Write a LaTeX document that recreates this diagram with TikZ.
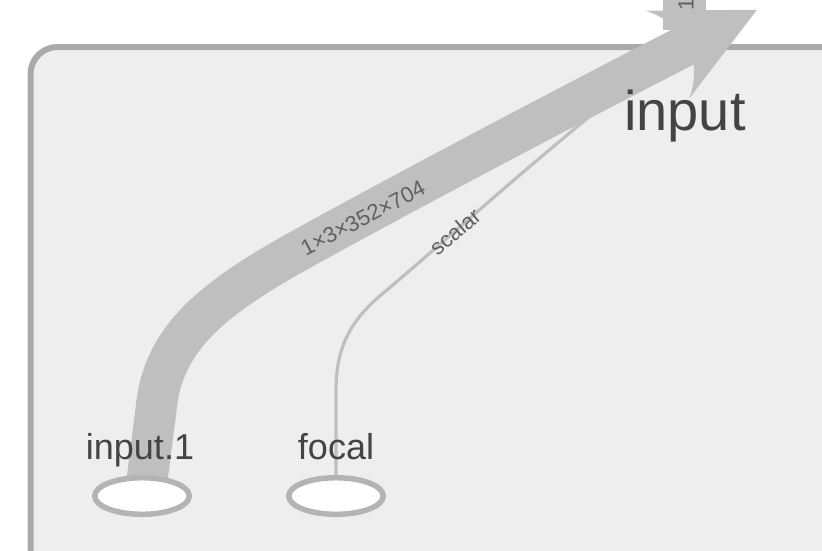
\documentclass[tikz,border=0pt]{standalone}
\usepackage{fontspec}
\setmainfont{Liberation Sans}
\usetikzlibrary{shapes.geometric}
\pgfdeclarelayer{back}
\pgfdeclarelayer{edges}
\pgfsetlayers{back,edges,main}
\definecolor{boxfill}{HTML}{EEEEEE}
\definecolor{boxline}{HTML}{AAAAAA}
\definecolor{bandcol}{HTML}{BFBFBF}
\definecolor{ellline}{HTML}{B4B4B4}
\definecolor{nodetxt}{HTML}{444444}
\definecolor{labeltxt}{HTML}{606060}
\tikzset{
  ellnode/.style={ellipse, draw=ellline, fill=white, line width=5.5pt,
    minimum width=94.6pt, minimum height=36.6pt, inner sep=0pt, outer sep=0pt},
  nodetext/.style={text=nodetxt, inner sep=0pt, anchor=base,
    font=\fontsize{36}{40}\selectfont},
  grouptext/.style={text=nodetxt, inner sep=0pt, anchor=base,
    font=\fontsize{56}{60}\selectfont},
  elabel/.style={text=labeltxt, inner sep=0pt,
    font=\fontsize{22}{24}\selectfont},
  band/.style={draw=bandcol, line width=41pt},
  thinedge/.style={draw=bandcol, line width=3.2pt},
  groupbox/.style={fill=boxfill, draw=boxline, line width=6pt, rounded corners=27pt}
}
\begin{document}
\begin{tikzpicture}[x=1pt,y=-1pt]
\useasboundingbox (0,0) rectangle (822,550);
\clip (0,0) rectangle (822,550);
\begin{pgfonlayer}{back}
  \fill[white] (0,0) rectangle (822,550);
  \path[groupbox] (30.5,47) rectangle (900,700);
\end{pgfonlayer}

% nodes
\node[ellnode] (in1) at (142,496) {};
\node[ellnode] (focal) at (336,496) {};
\node[nodetext] (in1lbl) at (140,459) {input.1};
\node[nodetext] (focallbl) at (336,459) {focal};
\node[grouptext] (grp) at (685,130) {input};

% arrowhead geometry
\coordinate (m) at (667.5,54.5);
\coordinate (me) at (694.3,41.1);
\coordinate (b1) at (645.6,10.7);
\coordinate (tip) at (756.9,9.8);
\coordinate (b2) at (689.4,98.3);

\begin{pgfonlayer}{edges}
  \draw[band] ([xshift=3pt]in1.center) -- (156,410)
     .. controls (162,340) and (210,300) .. (300,250)
     .. controls (390,200) and (560,110) .. (me);
  \draw[thinedge] (focal.center) -- (336,390)
     .. controls (336,345) and (352,318) .. (387,290)
     .. controls (460,228) and (550,145) .. (m);
  \fill[bandcol] (b1) -- (tip) -- (b2)
     .. controls (703.1,58.6) and (685.5,23.6) .. (b1) -- cycle;
  \fill[bandcol] (663,-5) rectangle (706,30);
\end{pgfonlayer}

% edge labels
\node[elabel, rotate=27.5] (l1) at (363,218) {1×3×352×704};
\node[elabel, rotate=40] (l2) at (455,232) {scalar};
\node[elabel, rotate=90, anchor=west] (l3) at (686,11) {1×3×352×704};
\end{tikzpicture}
\end{document}
